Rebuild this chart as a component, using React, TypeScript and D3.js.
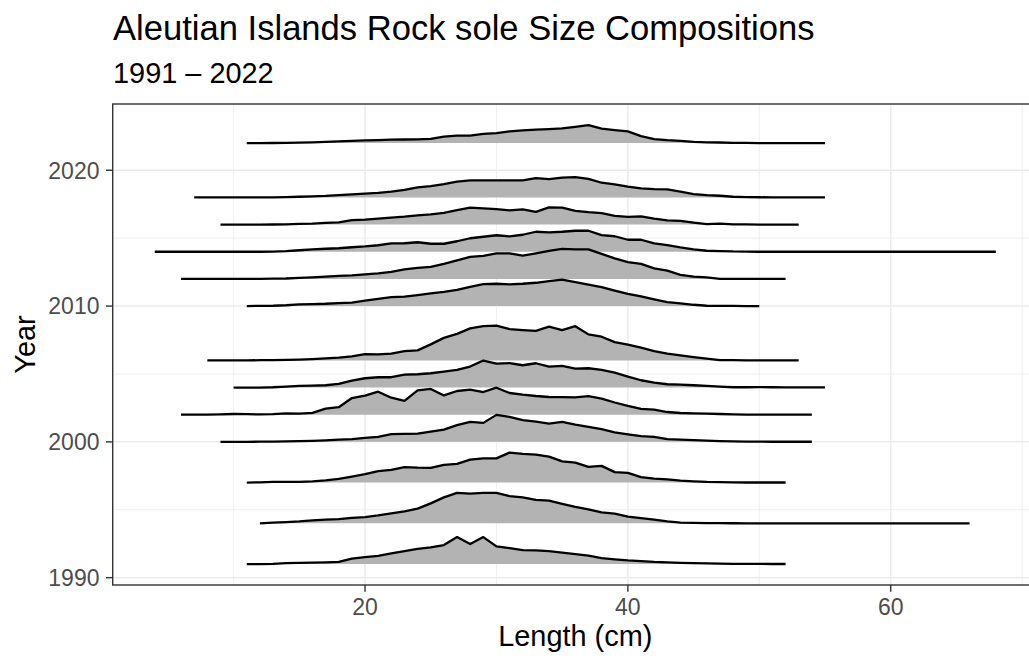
import React from "react";
import * as d3 from "d3";

// ---- Data (relative size-composition heights per 1-cm length bin) ----
const years = [1991, 1994, 1997, 2000, 2002, 2004, 2006, 2010, 2012, 2014, 2016, 2018, 2022];
const lengthStart = [11, 12, 11, 9, 6, 10, 8, 11, 6, 4, 9, 7, 11];

const comp1991 = [0, 0, 0.2, 1, 1.2, 1.5, 1.8, 2.2, 5.5, 7, 8.3, 10.7, 13, 15.3, 16.7, 19, 27, 20, 27, 17.7, 16, 14, 13.7, 13, 11.5, 10, 8.5, 6, 4.8, 3.7, 3, 2.2, 1.7, 1.3, 1, 0.7, 0.5, 0.3, 0.2, 0.2, 0.1, 0.1];
const comp1994 = [0, 0.7, 1.3, 2, 3, 3.7, 4.2, 5.5, 6.3, 8, 10, 12, 14.7, 20, 26, 30.5, 29.8, 30.5, 30.5, 27.2, 26, 23.5, 22.8, 19.5, 16.5, 14, 11, 9.8, 6.8, 5.3, 3.7, 2, 0.7, 0.5, 0.3, 0.2, 0.1, 0, 0, 0, 0, 0, 0, 0, 0, 0, 0, 0, 0, 0, 0, 0, 0, 0, 0];
const comp1997 = [0, 0.3, 0.7, 0.7, 0.7, 1.3, 2.3, 3.7, 6, 8.5, 11.5, 12.7, 15.5, 15, 14.8, 17.8, 18.8, 23, 24.2, 24.2, 30, 28.8, 28, 26, 21.3, 20, 15.7, 16.7, 10.5, 9.7, 5.5, 4, 3.3, 2, 1.3, 0.7, 0.5, 0.3, 0.1, 0.1, 0.1, 0.1];
const comp2000 = [0, 0, 0, 0.2, 0.3, 0.5, 0.7, 1, 1.5, 2.2, 2.8, 4, 5, 7.7, 8, 8.3, 10.3, 12.3, 16.7, 20, 19, 27, 25, 21.7, 20.3, 18.3, 20, 17.3, 15, 12.7, 9.5, 7.5, 5.7, 5, 2.7, 2.3, 1.7, 1.2, 0.8, 0.5, 0.3, 0.2, 0.1, 0.1, 0.1, 0.1];
const comp2002 = [0, 0, 0, 0.3, 0.7, 0.5, 0.3, 0.5, 1.3, 1, 1.8, 6, 7.5, 16.7, 19, 23, 17, 13.8, 24.3, 25.8, 19.3, 23.7, 25, 22.7, 27, 21.7, 20, 18.7, 17.7, 17.5, 17.3, 18.5, 16, 12.2, 8.8, 5.8, 5, 2.7, 1.7, 1.3, 1, 0.7, 0.3, 0.1, 0.1, 0.1, 0.1, 0.1, 0.1];
const comp2004 = [0, 0, 0, 0.3, 1, 1.7, 2, 2.3, 3.7, 7, 9.3, 10.3, 10.3, 13, 13.3, 14.3, 16, 17.7, 21, 27, 24, 24.5, 22.3, 24.3, 21, 21.7, 19, 19.3, 17.7, 15, 11, 7.3, 5, 3.3, 3, 2.3, 1.7, 1, 0.3, 0.3, 0.5, 0.3, 0.1, 0.1, 0.1, 0.1];
const comp2006 = [0, 0, 0, 0, 0.2, 0.3, 0.5, 0.8, 1.3, 2, 2.8, 4, 6.3, 6, 6.7, 9.3, 10, 16, 22.5, 26.5, 32, 34.3, 34.7, 31.3, 30.3, 29.5, 33.7, 30.3, 34.2, 26, 23.7, 18.3, 15.8, 12.7, 9.3, 6.7, 5, 3.3, 1.7, 0.3, 0.2, 0.1, 0.1, 0.1, 0.1, 0];
const comp2010 = [0, 0.2, 0.3, 0.8, 1.7, 2, 2.3, 3, 3.5, 5.5, 7.3, 9, 9.5, 11, 12.7, 14.3, 16.3, 19.3, 22, 22.3, 21.7, 22.3, 23.3, 25, 26.5, 24, 21.5, 19, 15.5, 12.3, 9.7, 6.7, 4, 2.7, 1.3, 0.3, 0.1, 0.1, 0, 0];
const comp2012 = [0, 0, 0, 0, 0, 0.1, 0.1, 0.2, 0.4, 1, 1.5, 2.2, 3, 3.5, 4.5, 5.5, 7, 9.5, 11, 12, 15, 18.5, 22, 23, 25.5, 25.5, 23.2, 25.5, 28, 30, 29.6, 29.5, 25, 20.5, 16.8, 15, 10.5, 8.2, 4, 2.2, 1.5, 0, 0, 0, 0, 0, 0];
const comp2014 = [0, 0, 0, 0, 0, 0, 0, 0, 0, 0.2, 0.7, 1.5, 2.3, 3, 3.5, 4.5, 5.3, 6.5, 8.3, 8.5, 9.5, 8, 8, 10.5, 13.5, 15, 16.5, 15.3, 17, 20, 19.3, 20, 21, 21, 16.7, 15.5, 12, 12, 8.3, 6.7, 4.3, 2.3, 1, 0.7, 0.3, 0.2, 0, 0, 0, 0, 0, 0, 0, 0, 0, 0, 0, 0, 0, 0, 0, 0, 0, 0, 0];
const comp2016 = [0, 0, 0, 0, 0.1, 0.3, 0.7, 1, 1.7, 2.3, 4.5, 5, 6, 7, 8, 9.3, 10.3, 11.7, 14.5, 17, 16.2, 15.5, 14.2, 15.3, 12.8, 17.2, 17, 13.8, 12.5, 11.5, 8.7, 7.8, 8.2, 6, 4.3, 3.7, 2, 0.5, 1, 0.3, 0.2, 0, 0, 0, 0];
const comp2018 = [0, 0, 0, 0, 0, 0, 0, 0.3, 0.7, 1, 1.5, 2.3, 3, 3.8, 4.6, 5.8, 7.5, 10, 11.3, 13.3, 15.8, 17, 17, 17, 17, 17, 19.4, 18.4, 19.8, 20.4, 18.5, 14.7, 13, 10.7, 9, 8.3, 8, 5.7, 3.3, 2.3, 1.7, 0.7, 0.3, 0.2, 0, 0, 0, 0, 0];
const comp2022 = [0, 0, 0.1, 0.2, 0.5, 0.8, 1.2, 1.7, 2.2, 2.7, 3, 3.4, 3.6, 3.8, 4.2, 6.4, 7.4, 7.4, 9.2, 9.9, 11.8, 12.7, 13.5, 14, 14.7, 16.3, 18, 14.4, 13, 11.7, 7, 4, 3, 2.3, 1.3, 0.7, 0.6, 0.3, 0.2, 0, 0, 0, 0, 0, 0];

const compositions = [comp1991, comp1994, comp1997, comp2000, comp2002, comp2004, comp2006, comp2010, comp2012, comp2014, comp2016, comp2018, comp2022];

const xMajorTicks = [20, 40, 60];
const xMinorTicks = [10, 30, 50, 70];
const yMajorTicks = [1990, 2000, 2010, 2020];
const yMinorTicks = [1995, 2005, 2015];

const title = "Aleutian Islands Rock sole Size Compositions";
const subtitle = "1991 \u2013 2022";
const xLabel = "Length (cm)";
const yLabel = "Year";

// ---- Layout ----
const W = 1029;
const H = 658;
const panel = { left: 112.7, right: 1037.9, top: 104, bottom: 585 };
const FONT = "'Liberation Sans', Arial, Helvetica, sans-serif";
// height units -> years
const RIDGE_SCALE = 1 / 13.58;

export default function App() {
  const x = d3.scaleLinear().domain([0.8, 71.2]).range([panel.left, panel.right]);
  const y = d3.scaleLinear().domain([1989.46, 2024.88]).range([panel.bottom, panel.top]);

  const ridges = years.map((yr, i) => {
    const pts = compositions[i].map((v, j) => ({ L: lengthStart[i] + j, v }));
    const area = d3
      .area<{ L: number; v: number }>()
      .x((d) => x(d.L))
      .y0(() => y(yr))
      .y1((d) => y(yr + d.v * RIDGE_SCALE));
    const line = d3
      .line<{ L: number; v: number }>()
      .x((d) => x(d.L))
      .y((d) => y(yr + d.v * RIDGE_SCALE));
    return { yr, area: area(pts) || "", line: line(pts) || "" };
  });

  // draw top (latest) first so lower ridges overlap
  const ordered = [...ridges].sort((a, b) => b.yr - a.yr);

  return (
    <svg
      width={W}
      height={H}
      style={{ position: "absolute", left: 0, top: 0, background: "#fff" }}
      fontFamily={FONT}
    >
      <rect x={0} y={0} width={W} height={H} fill="#ffffff" />
      <defs>
        <clipPath id="panelClip">
          <rect x={panel.left} y={panel.top} width={panel.right - panel.left} height={panel.bottom - panel.top} />
        </clipPath>
      </defs>
      <text x={113} y={40} fontSize={34.6} fill="#000">{title}</text>
      <text x={113} y={83} fontSize={28.9} fill="#000">{subtitle}</text>

      <g clipPath="url(#panelClip)">
        {xMinorTicks.map((t) => (
          <line key={"xm" + t} x1={x(t)} x2={x(t)} y1={panel.top} y2={panel.bottom} stroke="#EBEBEB" strokeWidth={0.8} />
        ))}
        {yMinorTicks.map((t) => (
          <line key={"ym" + t} x1={panel.left} x2={panel.right} y1={y(t)} y2={y(t)} stroke="#EBEBEB" strokeWidth={0.8} />
        ))}
        {xMajorTicks.map((t) => (
          <line key={"xM" + t} x1={x(t)} x2={x(t)} y1={panel.top} y2={panel.bottom} stroke="#EBEBEB" strokeWidth={1.5} />
        ))}
        {yMajorTicks.map((t) => (
          <line key={"yM" + t} x1={panel.left} x2={panel.right} y1={y(t)} y2={y(t)} stroke="#EBEBEB" strokeWidth={1.5} />
        ))}
        {ordered.map((r) => (
          <g key={r.yr}>
            <path d={r.area} fill="#B3B3B3" stroke="none" />
            <path d={r.line} fill="none" stroke="#000" strokeWidth={2.3} strokeLinejoin="round" />
          </g>
        ))}
      </g>

      <rect
        x={panel.left}
        y={panel.top}
        width={panel.right - panel.left}
        height={panel.bottom - panel.top}
        fill="none"
        stroke="#333333"
        strokeWidth={1.4}
      />

      {xMajorTicks.map((t) => (
        <g key={"xt" + t}>
          <line x1={x(t)} x2={x(t)} y1={panel.bottom} y2={panel.bottom + 6.7} stroke="#333333" strokeWidth={1.4} />
          <text x={x(t)} y={615} textAnchor="middle" fontSize={23} fill="#4D4D4D">{t}</text>
        </g>
      ))}
      {yMajorTicks.map((t) => (
        <g key={"yt" + t}>
          <line x1={panel.left - 6.7} x2={panel.left} y1={y(t)} y2={y(t)} stroke="#333333" strokeWidth={1.4} />
          <text x={99.5} y={y(t)} dy="0.36em" textAnchor="end" fontSize={23} fill="#4D4D4D">{t}</text>
        </g>
      ))}

      <text x={(panel.left + panel.right) / 2} y={646} textAnchor="middle" fontSize={28.9} fill="#000">{xLabel}</text>
      <text
        transform={`translate(35,${(panel.top + panel.bottom) / 2}) rotate(-90)`}
        textAnchor="middle"
        fontSize={28.9}
        fill="#000"
      >
        {yLabel}
      </text>
    </svg>
  );
}
